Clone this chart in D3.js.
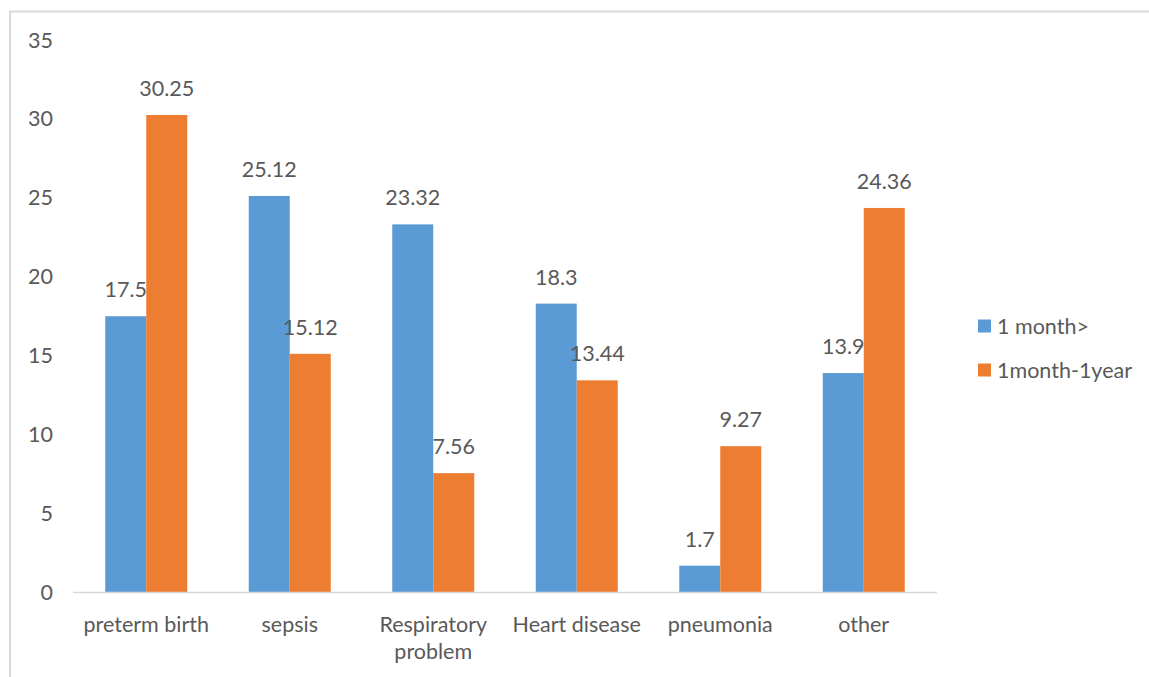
<!DOCTYPE html>
<html>
<head>
<meta charset="utf-8">
<script src="https://cdn.jsdelivr.net/npm/d3@7"></script>
<style>
  html, body { margin: 0; padding: 0; background: #fff; }
  svg { display: block; }
  text { font-family: Lato, "Open Sans", sans-serif; fill: #595959; }
</style>
</head>
<body>
<svg id="chart" width="1149" height="677"></svg>
<script>
const categories = ["preterm birth", "sepsis", "Respiratory problem", "Heart disease", "pneumonia", "other"];
const seriesNames = ["1 month>", "1month-1year"];
const seriesA = [17.5, 25.12, 23.32, 18.3, 1.7, 13.9];
const seriesB = [30.25, 15.12, 7.56, 13.44, 9.27, 24.36];
const yTicks = [0, 5, 10, 15, 20, 25, 30, 35];
const colors = ["#5B9BD5", "#ED7D31"];

const svg = d3.select("#chart");
const W = 1149, H = 677;
const FS = 21.5;

// frame
svg.append("line").attr("x1", 10).attr("x2", W).attr("y1", 11.5).attr("y2", 11.5)
  .attr("stroke", "#d9d9d9").attr("stroke-width", 2);
svg.append("line").attr("x1", 10).attr("x2", 10).attr("y1", 11).attr("y2", H)
  .attr("stroke", "#d9d9d9").attr("stroke-width", 2);

const x0 = d3.scaleBand().domain(categories).range([74.5, 935.5]).paddingInner(0).paddingOuter(0);
const x1 = d3.scaleBand().domain(seriesNames).range([0, x0.bandwidth()]).paddingInner(0).paddingOuter(0.75);
const y = d3.scaleLinear().domain([0, 35]).range([592.5, 40]);

// y tick labels
svg.append("g").selectAll("text").data(yTicks).join("text")
  .attr("x", 53).attr("y", d => y(d)).attr("dy", "0.35em")
  .attr("text-anchor", "end").attr("font-size", FS).text(d => d);

const data = categories.map((c, i) => ({ cat: c, vals: [seriesA[i], seriesB[i]] }));

const groups = svg.append("g").selectAll("g").data(data).join("g")
  .attr("transform", d => `translate(${x0(d.cat)},0)`);

groups.selectAll("rect").data(d => d.vals.map((v, j) => ({ name: seriesNames[j], v, j })))
  .join("rect")
  .attr("x", d => x1(d.name)).attr("width", x1.bandwidth())
  .attr("y", d => y(d.v)).attr("height", d => y(0) - y(d.v))
  .attr("fill", d => colors[d.j]);

groups.selectAll("text.lbl").data(d => d.vals.map((v, j) => ({ name: seriesNames[j], v, j })))
  .join("text").attr("class", "lbl")
  .attr("x", d => x1(d.name) + x1.bandwidth() / 2)
  .attr("y", d => y(d.v) - 19)
  .attr("text-anchor", "middle").attr("font-size", FS)
  .text(d => d.v);

// x axis line
svg.append("line").attr("x1", 73).attr("x2", 937).attr("y1", 592.5).attr("y2", 592.5)
  .attr("stroke", "#d9d9d9").attr("stroke-width", 1.5);

// category labels
const catG = svg.append("g");
categories.forEach(c => {
  const cx = x0(c) + x0.bandwidth() / 2;
  const words = c === "Respiratory problem" ? ["Respiratory", "problem"] : [c];
  words.forEach((w, k) => {
    catG.append("text").attr("x", cx).attr("y", 632 + k * 27)
      .attr("text-anchor", "middle").attr("font-size", FS).text(w);
  });
});

// legend
const leg = svg.append("g");
seriesNames.forEach((n, i) => {
  const yy = 326 + i * 44;
  leg.append("rect").attr("x", 978).attr("y", yy - 6.5).attr("width", 13).attr("height", 13).attr("fill", colors[i]);
  leg.append("text").attr("x", 997).attr("y", yy).attr("dy", "0.35em").attr("font-size", FS).text(n);
});
</script>
</body>
</html>
